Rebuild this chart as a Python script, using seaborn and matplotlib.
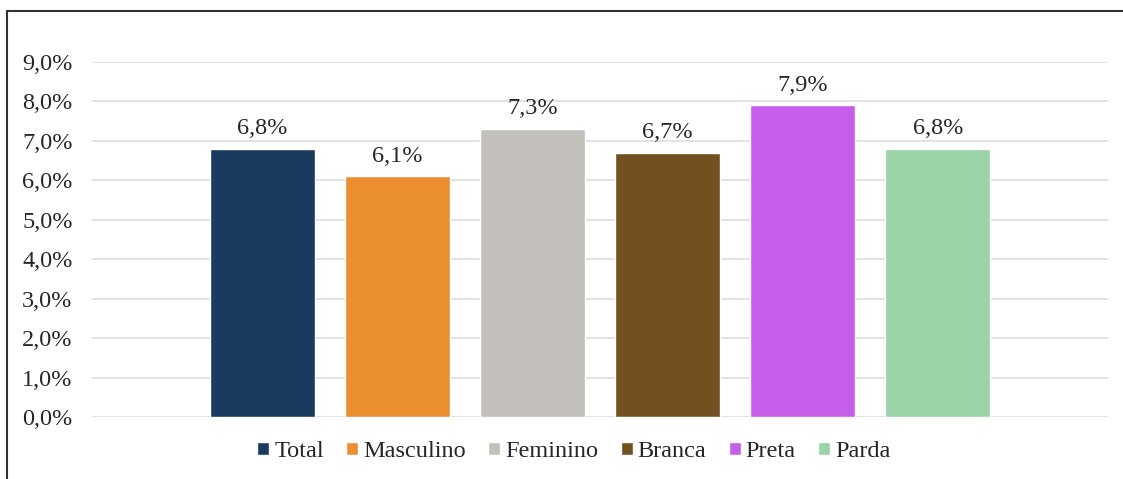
import matplotlib
matplotlib.use("Agg")
import matplotlib.pyplot as plt
from matplotlib.patches import Patch
from matplotlib.lines import Line2D
from matplotlib.ticker import FuncFormatter
import seaborn as sns

categories = ["Total", "Masculino", "Feminino", "Branca", "Preta", "Parda"]
values = [0.068, 0.061, 0.073, 0.067, 0.079, 0.068]
colors = ["#1B3A5F", "#EA8E30", "#C3C0BB", "#72501F", "#C75EEB", "#9AD3A6"]

sns.set_style("white")
plt.rcParams["font.family"] = ["Liberation Serif", "DejaVu Serif"]
FS = 17.5

fig = plt.figure(figsize=(11.23, 4.79), dpi=100)
ax = fig.add_axes([0.0819, 0.1294, 0.9047, 0.7412])

sns.barplot(x=categories, y=values, hue=categories, palette=colors,
            width=0.78, dodge=False, legend=False, saturation=1, ax=ax)

ax.set_ylim(0, 0.09)
ax.set_xlim(-1.26, 6.26)
ax.set_yticks([i / 100 for i in range(10)])
ax.yaxis.set_major_formatter(FuncFormatter(lambda v, p: f"{v * 100:.1f}%".replace(".", ",")))
ax.yaxis.grid(True, color="#DDDDDD", linewidth=1.2)
ax.set_axisbelow(True)
ax.set_xticks([])
ax.set_xlabel("")
ax.set_ylabel("")
ax.tick_params(axis="y", length=0, pad=14, labelsize=FS)
for s in ax.spines.values():
    s.set_visible(False)

# rótulos de dados
for i, v in enumerate(values):
    ax.annotate(f"{v * 100:.1f}%".replace(".", ","), (i, v), xytext=(0, 7),
                textcoords="offset points", ha="center", va="bottom", fontsize=FS)

handles = [Patch(facecolor=c, label=l) for c, l in zip(colors, categories)]
fig.legend(handles=handles, loc="center", bbox_to_anchor=(0.511, 0.057), ncol=6,
           frameon=False, fontsize=FS, handlelength=0.5, handleheight=0.5,
           handletextpad=0.2, columnspacing=0.92)

# moldura (topo e esquerda)
fig.add_artist(Line2D([7 / 1123, 1], [1 - 11 / 479, 1 - 11 / 479], color="#333333", linewidth=1.5))
fig.add_artist(Line2D([7 / 1123, 7 / 1123], [0, 1 - 11 / 479], color="#333333", linewidth=1.5))

fig.savefig("out.png", dpi=100)
